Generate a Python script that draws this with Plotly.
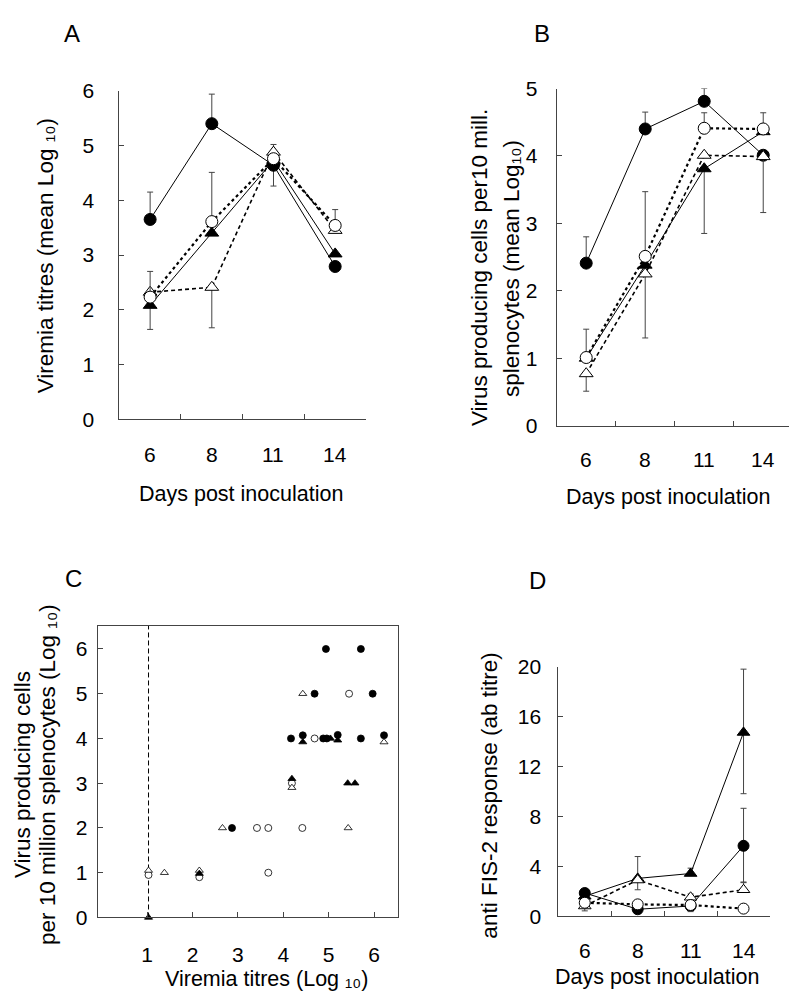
import plotly.graph_objects as go

W, H = 789, 1004
FONT = "Liberation Sans, DejaVu Sans, Arial, sans-serif"

def PX(p):
    return p / W

def PY(p):
    return 1 - p / H

# ---------------- data ----------------
days = ["6", "8", "11", "14"]
day_pos = [0, 1, 2, 3]

# Panel A: Viremia titres (mean Log10)
a_fc = [3.65, 5.40, 4.64, 2.79]
a_fc_plus = [0.50, 0.54, 0.0, 0.0]
a_fc_minus = [0.0, 0.0, 0.38, 0.0]
a_ft = [2.08, 3.40, 4.73, 3.02]
a_ft_plus = [0.0, 1.11, 0.0, 0.0]
a_ft_minus = [0.44, 0.0, 0.0, 0.0]
a_oc = [2.23, 3.61, 4.76, 3.54]
a_oc_plus = [0.47, 0.0, 0.0, 0.29]
a_oc_minus = [0.0, 0.0, 0.0, 0.0]
a_ot = [2.32, 2.41, 4.88, 3.45]
a_ot_plus = [0.0, 0.0, 0.14, 0.0]
a_ot_minus = [0.0, 0.74, 0.0, 0.0]

# Panel B: virus producing cells per 10 mill. splenocytes (mean Log10)
b_fc = [2.41, 4.40, 4.81, 4.01]
b_fc_plus = [0.39, 0.25, 0.19, 0.0]
b_fc_minus = [0.0, 0.0, 0.0, 0.0]
b_ft = [1.00, 2.38, 3.81, 4.36]
b_ft_plus = [0.0, 0.0, 0.0, 0.0]
b_ft_minus = [0.0, 0.0, 0.96, 0.0]
b_oc = [1.01, 2.51, 4.41, 4.40]
b_oc_plus = [0.42, 0.96, 0.23, 0.24]
b_oc_minus = [0.0, 0.0, 0.0, 0.0]
b_ot = [0.77, 2.25, 4.01, 3.99]
b_ot_plus = [0.0, 0.0, 0.0, 0.0]
b_ot_minus = [0.26, 0.95, 0.0, 0.83]

# Panel C: individual animals
c_fc_x = [2.87, 4.94, 5.71, 4.69, 5.97, 4.17, 4.43, 4.88, 4.96, 5.71, 6.22, 5.20]
c_fc_y = [2.0, 6.0, 6.0, 5.0, 5.0, 4.0, 4.07, 4.0, 4.0, 4.0, 4.07, 4.08]
c_ft_x = [1.03, 2.15, 4.43, 5.04, 5.20, 4.19, 5.42, 5.58]
c_ft_y = [0.0, 0.98, 3.92, 4.0, 3.96, 3.10, 3.0, 3.0]
c_oc_x = [1.03, 2.15, 3.42, 3.67, 3.67, 4.42, 4.69, 5.45, 4.19]
c_oc_y = [0.95, 0.90, 2.0, 2.0, 1.0, 2.0, 4.0, 5.0, 3.0]
c_ot_x = [1.03, 1.38, 2.15, 2.66, 4.43, 4.19, 5.43, 6.22]
c_ot_y = [1.05, 1.0, 1.05, 2.0, 5.0, 2.90, 2.0, 3.92]
c_detection_limit = 1.03
c_xticks = [1, 2, 3, 4, 5, 6]
c_yticks = [0, 1, 2, 3, 4, 5, 6]

# Panel D: anti FIS-2 response (ab titre)
d_fc = [1.88, 0.58, 0.84, 5.66]
d_fc_plus = [0.0, 0.0, 0.0, 3.00]
d_fc_minus = [0.0, 0.0, 0.0, 2.90]
d_ft = [1.62, 3.05, 3.44, 14.73]
d_ft_plus = [0.0, 1.75, 0.43, 5.07]
d_ft_minus = [0.0, 0.0, 0.0, 4.90]
d_oc = [1.10, 0.97, 0.92, 0.63]
d_oc_plus = [0.0, 0.0, 0.0, 0.34]
d_oc_minus = [0.0, 0.0, 0.0, 0.0]
d_ot = [0.84, 2.92, 1.54, 2.14]
d_ot_plus = [0.0, 0.0, 0.26, 0.57]
d_ot_minus = [0.39, 0.78, 1.15, 0.0]

# ---------------- figure ----------------
fig = go.Figure()

STYLE = {
    "fc": dict(symbol="circle", fill="black", dash="solid", width=1.0),
    "ft": dict(symbol="triangle-up", fill="black", dash="solid", width=1.0),
    "oc": dict(symbol="circle", fill="white", dash="dot", width=2.2),
    "ot": dict(symbol="triangle-up", fill="white", dash="4px,3px", width=1.6),
}

def series(xa, ya, key, y, plus, minus, size=12):
    st = STYLE[key]
    fig.add_trace(go.Scatter(
        x=day_pos, y=y, xaxis=xa, yaxis=ya, mode="lines+markers",
        line=dict(color="black", width=st["width"], dash=st["dash"]),
        marker=dict(symbol=st["symbol"], size=size, color=st["fill"],
                    line=dict(color="black", width=1)),
        error_y=dict(type="data", symmetric=False, array=plus, arrayminus=minus,
                     color="#444", thickness=1, width=3),
        showlegend=False, cliponaxis=False,
    ))

# Panel A
series("x", "y", "ft", a_ft, a_ft_plus, a_ft_minus)
series("x", "y", "fc", a_fc, a_fc_plus, a_fc_minus)
series("x", "y", "ot", a_ot, a_ot_plus, a_ot_minus)
series("x", "y", "oc", a_oc, a_oc_plus, a_oc_minus)
# Panel B
series("x2", "y2", "ft", b_ft, b_ft_plus, b_ft_minus)
series("x2", "y2", "fc", b_fc, b_fc_plus, b_fc_minus)
series("x2", "y2", "ot", b_ot, b_ot_plus, b_ot_minus)
series("x2", "y2", "oc", b_oc, b_oc_plus, b_oc_minus)
# Panel D
series("x4", "y4", "ft", d_ft, d_ft_plus, d_ft_minus, size=11)
series("x4", "y4", "fc", d_fc, d_fc_plus, d_fc_minus, size=11)
series("x4", "y4", "ot", d_ot, d_ot_plus, d_ot_minus, size=11)
series("x4", "y4", "oc", d_oc, d_oc_plus, d_oc_minus, size=11)

# Panel C
fig.add_trace(go.Scatter(
    x=[c_detection_limit, c_detection_limit], y=[0, 6.52], xaxis="x3", yaxis="y3",
    mode="lines", line=dict(color="black", width=1, dash="5px,3px"),
    showlegend=False, hoverinfo="skip"))
for xs, ys, key in [(c_oc_x, c_oc_y, "oc"), (c_ot_x, c_ot_y, "ot"),
                    (c_fc_x, c_fc_y, "fc"), (c_ft_x, c_ft_y, "ft")]:
    st = STYLE[key]
    fig.add_trace(go.Scatter(
        x=xs, y=ys, xaxis="x3", yaxis="y3", mode="markers",
        marker=dict(symbol=st["symbol"], size=7, color=st["fill"],
                    line=dict(color="black", width=0.8)),
        showlegend=False, cliponaxis=False))

AX = dict(showline=True, linecolor="#444", linewidth=1, showgrid=False,
          zeroline=False, ticks="inside", tickcolor="#444", ticklen=5,
          tickfont=dict(family=FONT, size=21, color="black"))

def cat_xaxis(x0, x1, anchor, rng):
    return dict(AX, domain=[PX(x0), PX(x1)], range=rng, anchor=anchor,
                tickmode="array", tickvals=[0.5, 1.5, 2.5, 3.5],
                showticklabels=False)

def yax(y_top, y_bot, anchor, rng, vals, standoff):
    return dict(AX, domain=[PY(y_bot), PY(y_top)], range=rng, anchor=anchor,
                tickmode="array", tickvals=vals, ticklabelstandoff=standoff)

fig.update_layout(
    width=W, height=H, margin=dict(l=0, r=0, t=0, b=0),
    paper_bgcolor="white", plot_bgcolor="white",
    font=dict(family=FONT, color="black"),
    showlegend=False,
    xaxis=cat_xaxis(119.3, 366.0, "y", [-0.5, 3.5]),
    yaxis=yax(80.7, 416.7, "x", [0, 6], [0, 1, 2, 3, 4, 5, 6], 20),
    xaxis2=cat_xaxis(556.7, 789.0, "y2", [-0.5, 3.437]),
    yaxis2=yax(78.3, 423.3, "x2", [0, 5], [0, 1, 2, 3, 4, 5], 14),
    xaxis3=dict(AX, domain=[PX(97.7), PX(398.3)], range=[-0.09, 6.535], anchor="y3",
                mirror=True, tickmode="array", tickvals=c_xticks, ticklabelstandoff=18),
    yaxis3=dict(AX, domain=[PY(926.7), PY(628.3)], range=[0, 6.515], anchor="x3",
                mirror=True, tickmode="array", tickvals=c_yticks, ticklabelstandoff=5),
    xaxis4=cat_xaxis(558.3, 770.0, "y4", [-0.5, 3.5]),
    yaxis4=yax(670.0, 925.7, "x4", [0, 20], [0, 4, 8, 12, 16, 20], 12),
)

ann = []
def text(x, y, s, size=22.5, angle=0, xref="paper", yref="paper"):
    ann.append(dict(x=x, y=y, xref=xref, yref=yref, text=s, showarrow=False,
                    textangle=angle, xanchor="center", yanchor="middle",
                    font=dict(family=FONT, size=size, color="black")))

# category labels (days) for A, B, D
for xa, ylab in [("x", 453), ("x2", 458), ("x4", 960)]:
    for p, d in zip(day_pos, days):
        text(p, PY(ylab), d, size=21, xref=xa)

# panel letters
text(PX(72), PY(22), "A", size=24)
text(PX(542), PY(22), "B", size=24)
text(PX(73), PY(580), "C", size=24)
text(PX(537), PY(582), "D", size=24)

SUB10 = "\u2081\u2080"
# axis titles
text(PX(241), PY(493), "Days post inoculation", size=21.5)
text(PX(668), PY(496), "Days post inoculation", size=21.5)
text(PX(657), PY(988), "Days post inoculation", size=21.5)
text(PX(266), PY(990), "Viremia titres (Log " + SUB10 + ")", size=21.5)
text(PX(45), PY(250), "Viremia titres (mean Log " + SUB10 + ")", angle=-90)
text(PX(480), PY(262), "Virus producing cells per10 mill.", angle=-90)
text(PX(512), PY(262), "splenocytes (mean Log" + SUB10 + ")", angle=-90)
text(PX(22), PY(781), "Virus producing cells", angle=-90)
text(PX(47), PY(781), "per 10 million splenocytes (Log " + SUB10 + ")", angle=-90)
text(PX(490), PY(802), "anti FIS-2 response (ab titre)", angle=-90)

fig.update_layout(annotations=ann)
fig.write_html(
    "out.html",
    config={"displayModeBar": False},
    post_script="document.body.style.margin='0';document.body.style.overflow='hidden';",
)
